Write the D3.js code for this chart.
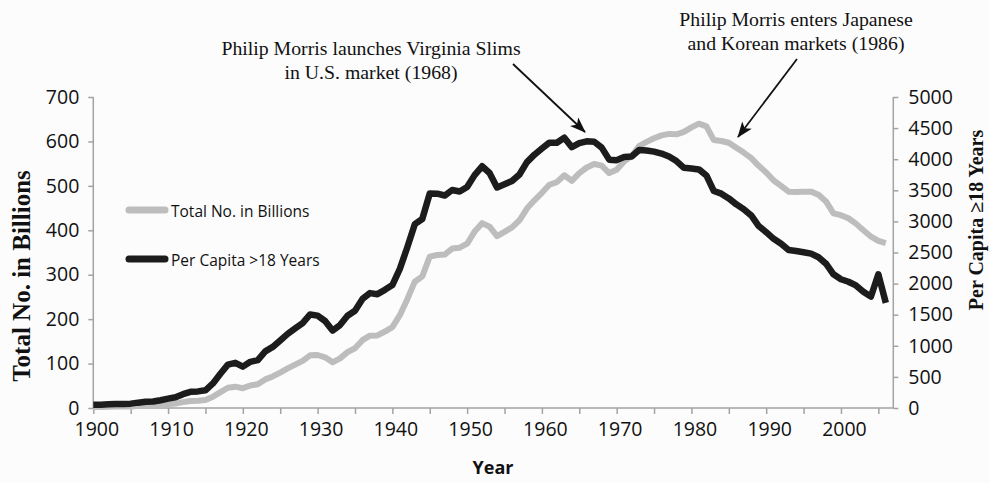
<!DOCTYPE html>
<html>
<head>
<meta charset="utf-8">
<script src="https://cdn.jsdelivr.net/npm/d3@7"></script>
<style>
  body { margin: 0; background: #fcfcfc; }
  svg { display: block; }
  .tick text { font-family: "Open Sans", sans-serif; font-size: 19.5px; fill: #111; }
  .legend text { font-family: "Open Sans", sans-serif; font-size: 15.5px; fill: #111; }
  .note { font-family: "Liberation Serif", "Times New Roman", serif; font-size: 19.8px; fill: #111; }
  .ytitle { font-family: "Liberation Serif", "Times New Roman", serif; font-weight: bold; fill: #111; }
</style>
</head>
<body>
<div id="chart"></div>
<script>
// first year of both series, one value per year after that
var startYear = 1900;

// total cigarettes consumed, billions (grey line, left axis)
var totalBillions = [
  2.5, 2.5, 2.8, 3.1, 3.3, 3.6, 4.5, 5.3, 5.7, 7.0,
  8.6, 10.1, 13.2, 15.8, 16.5, 17.9, 25.2, 35.7, 45.6, 48.0,
  44.6, 50.7, 53.4, 64.4, 71.0, 79.8, 89.1, 97.5, 106.0, 118.6,
  119.3, 114.0, 102.8, 111.6, 125.7, 134.4, 152.7, 162.8, 163.4, 172.1,
  181.9, 208.9, 245.0, 284.3, 296.3, 340.6, 344.3, 345.4, 358.9, 360.9,
  369.8, 397.1, 416.0, 408.2, 387.0, 396.4, 406.5, 422.5, 448.9, 467.5,
  484.4, 502.5, 508.4, 523.9, 511.3, 528.8, 541.3, 549.3, 545.6, 528.9,
  536.5, 555.1, 566.8, 589.7, 599.0, 607.2, 613.5, 617.0, 616.0, 621.5,
  631.5, 640.0, 634.0, 603.0, 601.0, 597.0, 586.0, 575.0, 562.5, 545.0,
  530.0, 512.0, 500.0, 487.0, 486.0, 487.0, 487.0, 480.0, 465.0, 438.0,
  434.0, 427.0, 415.0, 400.0, 386.0, 376.0, 371.0
];

// per capita consumption, adults (black line, right axis)
var perCapita = [
  54, 53, 60, 64, 66, 70, 86, 99, 105, 125,
  151, 173, 223, 260, 267, 285, 395, 551, 697, 727,
  665, 742, 770, 911, 982, 1085, 1191, 1279, 1366, 1504,
  1485, 1399, 1245, 1334, 1483, 1564, 1754, 1847, 1830, 1900,
  1976, 2236, 2585, 2956, 3039, 3449, 3446, 3416, 3505, 3480,
  3552, 3744, 3886, 3778, 3546, 3597, 3650, 3755, 3953, 4073,
  4171, 4266, 4265, 4345, 4194, 4258, 4287, 4280, 4186, 3993,
  3985, 4037, 4043, 4148, 4141, 4122, 4091, 4043, 3970, 3861,
  3851, 3836, 3739, 3488, 3446, 3370, 3274, 3197, 3096, 2926,
  2827, 2720, 2641, 2539, 2524, 2505, 2482, 2423, 2320, 2150,
  2070, 2030, 1970, 1870, 1790, 2150, 1690
];

var leftTicks = [0, 100, 200, 300, 400, 500, 600, 700];
var rightTicks = [0, 500, 1000, 1500, 2000, 2500, 3000, 3500, 4000, 4500, 5000];
var xTicks = d3.range(1900, 2006, 5);

var seriesNames = ["Total No. in Billions", "Per Capita >18 Years"];
var notes = [
  { lines: ["Philip Morris launches Virginia Slims", "in U.S. market (1968)"] },
  { lines: ["Philip Morris enters Japanese", "and Korean markets (1986)"] }
];

var svgWidth = 990;
var svgHeight = 483;
var plot = { left: 93.3, right: 893.3, top: 97, bottom: 408 };

var svg = d3.select("#chart")
  .append("svg")
  .attr("width", svgWidth)
  .attr("height", svgHeight);

svg.append("rect")
  .attr("width", svgWidth)
  .attr("height", svgHeight)
  .attr("fill", "#fcfcfc");

var years = totalBillions.map((d, i) => startYear + i);

var x = d3.scaleLinear().domain([1900, 2007]).range([plot.left, plot.right]);
var yLeft = d3.scaleLinear().domain([0, 700]).range([plot.bottom, plot.top]);
var yRight = d3.scaleLinear().domain([0, 5000]).range([plot.bottom, plot.top]);

var axisColor = "#a3a3a3";

// axes
var gx = svg.append("g")
  .attr("transform", `translate(0, ${plot.bottom})`)
  .call(d3.axisBottom(x)
    .tickValues(xTicks)
    .tickSize(6)
    .tickPadding(8)
    .tickFormat(d => d % 10 === 0 ? d : ""));

var gl = svg.append("g")
  .attr("transform", `translate(${plot.left}, 0)`)
  .call(d3.axisLeft(yLeft).tickValues(leftTicks).tickSize(5).tickPadding(9));

var gr = svg.append("g")
  .attr("transform", `translate(${plot.right}, 0)`)
  .call(d3.axisRight(yRight).tickValues(rightTicks).tickSize(5).tickPadding(10)
    .tickFormat(d3.format("d")));

[gx, gl, gr].forEach(g => {
  g.select(".domain").attr("stroke", axisColor).attr("stroke-width", 1.5);
  g.selectAll(".tick line").attr("stroke", axisColor).attr("stroke-width", 1.5);
});
gx.select(".domain").attr("d", `M${plot.left},0H${plot.right}`);
gl.select(".domain").attr("d", `M0,${plot.top}V${plot.bottom}`);
gr.select(".domain").attr("d", `M0,${plot.top}V${plot.bottom}`);
gx.selectAll(".tick text").attr("dx", 3);

// lines
var lineTotal = d3.line()
  .x((d, i) => x(years[i]))
  .y(d => yLeft(d));

var linePer = d3.line()
  .x((d, i) => x(years[i]))
  .y(d => yRight(d));

svg.append("path")
  .datum(totalBillions)
  .attr("d", lineTotal)
  .attr("fill", "none")
  .attr("stroke", "#bdbdbd")
  .attr("stroke-width", 6)
  .attr("stroke-linejoin", "round");

svg.append("path")
  .datum(perCapita)
  .attr("d", linePer)
  .attr("fill", "none")
  .attr("stroke", "#1c1c1c")
  .attr("stroke-width", 6.5)
  .attr("stroke-linejoin", "round");

// legend
var legend = svg.append("g").attr("class", "legend");
var legendColors = ["#bdbdbd", "#1c1c1c"];
seriesNames.forEach((name, i) => {
  var yy = 210 + i * 49;
  legend.append("line")
    .attr("x1", 129).attr("x2", 165)
    .attr("y1", yy).attr("y2", yy)
    .attr("stroke", legendColors[i])
    .attr("stroke-width", 7)
    .attr("stroke-linecap", "round");
  legend.append("text")
    .attr("x", 171)
    .attr("y", yy + 7)
    .text(name);
});

// axis titles
svg.append("text")
  .attr("class", "ytitle")
  .attr("transform", "translate(30, 276) rotate(-90)")
  .attr("text-anchor", "middle")
  .attr("font-size", 25)
  .text("Total No. in Billions");

svg.append("text")
  .attr("class", "ytitle")
  .attr("transform", "translate(983, 220) rotate(-90)")
  .attr("text-anchor", "middle")
  .attr("font-size", 20)
  .text("Per Capita \u226518 Years");

svg.append("text")
  .attr("x", 493)
  .attr("y", 474)
  .attr("text-anchor", "middle")
  .attr("font-family", "'Open Sans', sans-serif")
  .attr("font-weight", "bold")
  .attr("font-size", 18)
  .attr("fill", "#111")
  .text("Year");

// annotations with arrows
svg.append("defs").append("marker")
  .attr("id", "head")
  .attr("viewBox", "0 0 16 12")
  .attr("refX", 15)
  .attr("refY", 6)
  .attr("markerWidth", 16)
  .attr("markerHeight", 12)
  .attr("markerUnits", "userSpaceOnUse")
  .attr("orient", "auto")
  .append("path")
  .attr("d", "M0,0L16,6L0,12L4,6Z")
  .attr("fill", "#111");

var noteAnchors = [
  { cx: 371, y: 55, from: [513, 64], to: [585, 132] },
  { cx: 796, y: 26, from: [797, 59], to: [738, 137] }
];

notes.forEach((n, i) => {
  var a = noteAnchors[i];
  n.lines.forEach((t, j) => {
    svg.append("text")
      .attr("class", "note")
      .attr("x", a.cx)
      .attr("y", a.y + j * 23.5)
      .attr("text-anchor", "middle")
      .text(t);
  });
  svg.append("line")
    .attr("x1", a.from[0]).attr("y1", a.from[1])
    .attr("x2", a.to[0]).attr("y2", a.to[1])
    .attr("stroke", "#111")
    .attr("stroke-width", 1.8)
    .attr("marker-end", "url(#head)");
});
</script>
</body>
</html>
